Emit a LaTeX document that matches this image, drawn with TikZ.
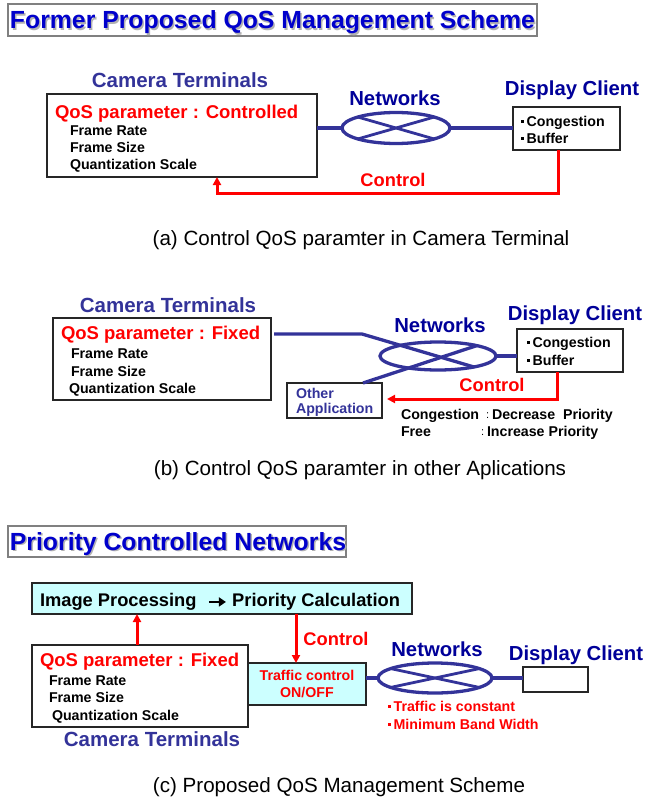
\documentclass[tikz,border=0pt]{standalone}
\usepackage{fontspec}
\setmainfont{Liberation Sans}
\usetikzlibrary{arrows.meta,shapes.geometric}
\definecolor{ttlblue}{HTML}{0000CC}
\definecolor{slate}{HTML}{333399}
\definecolor{navy}{HTML}{000099}
\definecolor{netc}{HTML}{333399}
\definecolor{lcyan}{HTML}{CCFFFF}
\newcommand\mybul{\raisebox{3.4pt}{\rule{2.6pt}{2.6pt}}\hspace{3pt}}
\newcommand\myarrow{\tikz[baseline={(0pt,-4.6pt)}]\draw[line width=2.6pt,-{Triangle[length=7pt,width=9pt]}] (0pt,0pt) -- (17pt,0pt);}
\begin{document}
\begin{tikzpicture}[x=1pt,y=-1pt,
  every node/.style={inner sep=0pt, outer sep=0pt},
  box/.style={draw=black!85, line width=1.1pt},
  ttlbox/.style={draw=black!50, line width=1.5pt, fill=white},
  ttl/.style={text height=17.8pt, text depth=0pt, font=\fontsize{24.8}{28}\selectfont\bfseries, text=ttlblue},
  ttlsh/.style={ttl, text=black!30},
  grp/.style={text height=14.7pt, text depth=0pt, font=\fontsize{20.5}{24}\selectfont\bfseries, text=slate},
  netlbl/.style={text height=14.5pt, text depth=0pt, font=\fontsize{20.3}{24}\selectfont\bfseries, text=navy},
  qos/.style={text height=13.2pt, text depth=0pt, anchor=west, font=\fontsize{18.5}{22}\selectfont\bfseries, text=red},
  par/.style={text height=10.2pt, text depth=0pt, anchor=west, font=\fontsize{14.2}{17}\selectfont\bfseries},
  colon/.style={text height=7.9pt, text depth=0pt, anchor=west, font=\fontsize{11}{13}\selectfont},
  ctllbl/.style={text height=13.1pt, text depth=0pt, font=\fontsize{18.3}{22}\selectfont\bfseries, text=red},
  captxt/.style={text height=14.8pt, text depth=0pt, font=\fontsize{20.6}{24}\selectfont},
  net/.style={ellipse, draw=netc, line width=3.3pt},
  wire/.style={draw=netc, line width=3.3pt},
  ctl/.style={draw=red, line width=3pt, -{Triangle[length=8pt,width=8pt]}}]
\useasboundingbox (0,0) rectangle (645,800);

% ---------------- (a) ----------------
\node[ttlbox, minimum width=529, minimum height=32] (t1) at (272.5,20) {};
\node[ttlsh] (t1s) at (274,21.5) {Former Proposed QoS Management Scheme};
\node[ttl] (t1t) at (272.5,20) {Former Proposed QoS Management Scheme};

\node[grp] (ct1) at (180,80) {Camera Terminals};
\node[box, minimum width=270, minimum height=83] (cam1) at (182,135.5) {};
\node[qos] (q1) at (55,112) {QoS parameter : Controlled};
\node[par] (p11) at (70,130) {Frame Rate};
\node[par] (p12) at (70,147) {Frame Size};
\node[par] (p13) at (70,164) {Quantization Scale};

\node[net, minimum width=108, minimum height=31] (net1) at (396,128) {};
\node[netlbl] (nl1) at (395,98) {Networks};
\node[netlbl] (dl1) at (572,88) {Display Client};
\node[box, minimum width=107, minimum height=43] (disp1) at (566.5,128.5) {};
\node[par] (d11) at (521,121) {\mybul Congestion};
\node[par] (d12) at (521,138) {\mybul Buffer};

\draw[wire] (net1.west -| cam1.east) -- (net1.west);
\draw[wire] (net1.east) -- (net1.east -| disp1.west);
\draw[wire, line width=2.8pt] (net1.164) -- (net1.-16);
\draw[wire, line width=2.8pt] (net1.196) -- (net1.16);

\coordinate (c1) at (217,193);
\draw[ctl] ([xshift=-8.5pt]disp1.south) |- (c1) -- (c1 |- cam1.south);
\node[ctllbl] (cl1) at (393,180) {Control};
\node[captxt] (cap1) at (361,238) {(a) Control QoS paramter in Camera Terminal};

% ---------------- (b) ----------------
\node[grp] (ct2) at (168,305) {Camera Terminals};
\node[box, minimum width=218, minimum height=82] (cam2) at (162,359) {};
\node[qos] (q2) at (61,333) {QoS parameter : Fixed};
\node[par] (p21) at (71,353) {Frame Rate};
\node[par] (p22) at (71,371) {Frame Size};
\node[par] (p23) at (69,388) {Quantization Scale};

\node[net, minimum width=116, minimum height=28] (net2) at (438,356) {};
\node[netlbl] (nl2) at (440,325) {Networks};
\node[netlbl] (dl2) at (575,313) {Display Client};
\node[box, minimum width=106, minimum height=43] (disp2) at (570,350.5) {};
\node[par] (d21) at (527,342) {\mybul Congestion};
\node[par] (d22) at (527,360) {\mybul Buffer};

\node[box, minimum width=95, minimum height=35] (oth) at (334.5,400.5) {};
\node[par, text=slate] (o1) at (296,393) {Other};
\node[par, text=slate] (o2) at (296,408) {Application};

\coordinate (w2) at (362,334);
\draw[wire] ([xshift=3pt]cam2.east |- w2) -- (w2) -- (net2.-17);
\draw[wire] ([xshift=28.5pt]oth.north) -- (net2.15);
\draw[wire] (net2.east) -- (net2.east -| disp2.west);

\coordinate (c2) at (387,399);
\draw[ctl] ([xshift=-13pt]disp2.south) |- (c2);
\node[ctllbl] (cl2) at (492,385) {Control};

\node[par] (g1) at (401,414) {Congestion};
\node[colon] (g1c) at (486,415) {:};
\node[par] (g1d) at (492,414) {Decrease\ \ Priority};
\node[par] (f1) at (401,431) {Free};
\node[colon] (f1c) at (481,432) {:};
\node[par] (f1d) at (487,431) {Increase Priority};

\node[captxt] (cap2) at (360,468) {(b) Control QoS paramter in other Aplications};

% ---------------- (c) ----------------
\node[ttlbox, minimum width=338, minimum height=31] (t2) at (177,541.5) {};
\node[ttlsh] (t2s) at (179.5,543) {Priority Controlled Networks};
\node[ttl] (t2t) at (178,541.5) {Priority Controlled Networks};

\node[box, fill=lcyan, minimum width=380, minimum height=31] (ip) at (222,598.5) {};
\node[text height=13.1pt, text depth=0pt, anchor=west, font=\fontsize{18.3}{22}\selectfont\bfseries] (ipt) at (40,600)
  {Image Processing\hspace{11pt}\myarrow\hspace{5pt}Priority Calculation};

\node[box, minimum width=216, minimum height=82] (cam3) at (140,686) {};
\node[qos] (q3) at (40,660) {QoS parameter : Fixed};
\node[par] (p31) at (49,680) {Frame Rate};
\node[par] (p32) at (49,697) {Frame Size};
\node[par] (p33) at (52,715) {Quantization Scale};
\node[grp] (ct3) at (152,739) {Camera Terminals};

\node[box, fill=lcyan, minimum width=118, minimum height=42, text=red,
      font=\fontsize{14.2}{17}\selectfont\bfseries, align=center] (tr) at (307,684) {Traffic control\\ON/OFF};

\coordinate (up) at ([xshift=-3pt]cam3.north);
\draw[ctl] (up) -- (up |- ip.south);
\coordinate (dn) at ([xshift=-11pt]tr.north);
\draw[ctl] (dn |- ip.south) -- (dn);
\node[ctllbl] (cl3) at (336,639) {Control};

\node[net, minimum width=114, minimum height=30] (net3) at (435,678) {};
\node[netlbl] (nl3) at (437,649) {Networks};
\node[netlbl] (dl3) at (576,653) {Display Client};
\node[box, minimum width=65, minimum height=25] (disp3) at (555.5,679.5) {};

\draw[wire] (net3.west -| tr.east) -- (net3.west);
\draw[wire] (net3.east) -- (net3.east -| disp3.west);
\draw[wire, line width=2.8pt] (net3.168) -- (net3.-12);
\draw[wire, line width=2.8pt] (net3.192) -- (net3.12);

\node[par, text=red] (k1) at (388,706) {\mybul Traffic is constant};
\node[par, text=red] (k2) at (388,724) {\mybul Minimum Band Width};

\node[captxt] (cap3) at (339,785) {(c) Proposed QoS Management Scheme};
\end{tikzpicture}
\end{document}
